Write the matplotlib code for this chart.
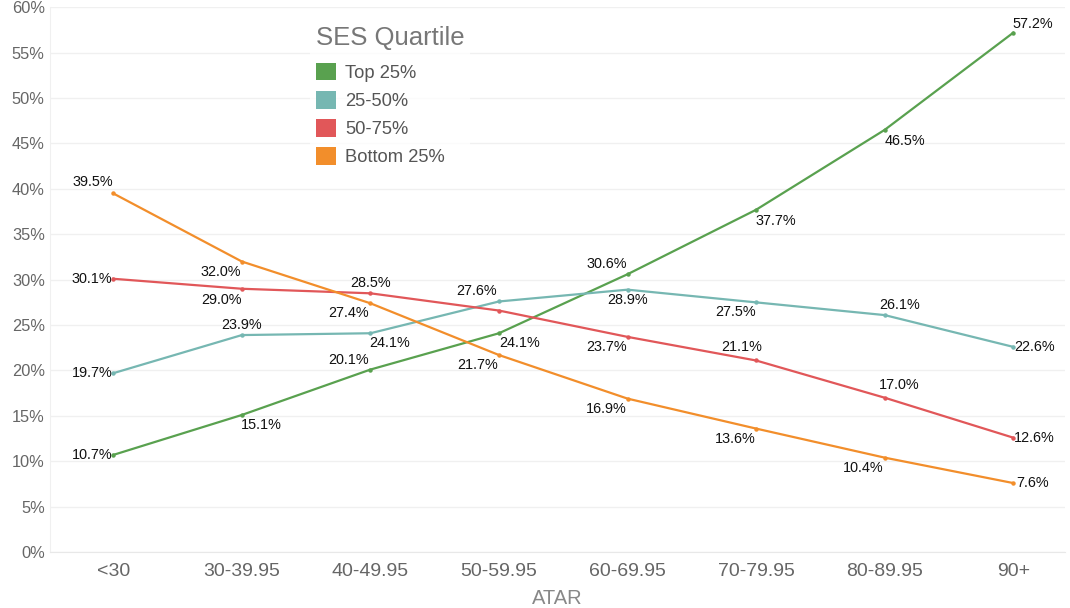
import matplotlib.pyplot as plt
from matplotlib.patches import Patch

plt.rcParams['font.family'] = ['Liberation Sans', 'DejaVu Sans']

# 数据
atar = ['<30', '30-39.95', '40-49.95', '50-59.95', '60-69.95', '70-79.95', '80-89.95', '90+']
series = ['Top 25%', '25-50%', '50-75%', 'Bottom 25%']
top25 = [10.7, 15.1, 20.1, 24.1, 30.6, 37.7, 46.5, 57.2]
q25_50 = [19.7, 23.9, 24.1, 27.6, 28.9, 27.5, 26.1, 22.6]
q50_75 = [30.1, 29.0, 28.5, 26.6, 23.7, 21.1, 17.0, 12.6]
bottom25 = [39.5, 32.0, 27.4, 21.7, 16.9, 13.6, 10.4, 7.6]
# 哪些点显示数值标签
show_label = {
    'Top 25%': [1, 1, 1, 1, 1, 1, 1, 1],
    '25-50%': [1, 1, 1, 1, 1, 1, 1, 1],
    '50-75%': [1, 1, 1, 0, 1, 1, 1, 1],
    'Bottom 25%': [1, 1, 1, 1, 1, 1, 1, 1],
}

colors = ['#59A14F', '#76B7B2', '#E15759', '#F28E2B']
# 标签偏移 (像素)
offsets = {
    'Top 25%': [(-21, 0), (19, -10), (-22, 10), (21, -10), (-21, 10), (20, -11), (20, -11), (20, 9)],
    '25-50%': [(-21, 0), (0, 10), (19, -10), (-22, 10), (0, -10), (-21, -10), (15, 10), (21, 0)],
    '50-75%': [(-21, 0), (-20, -11), (0, 10), (0, 0), (-21, -10), (-14, 13), (15, 13), (21, 0)],
    'Bottom 25%': [(-20, 11), (-21, -10), (-22, -10), (-21, -10), (-21, -10), (-21, -10), (-21, -10), (19, 0)],
}

fig = plt.figure(figsize=(10.7, 6.08), dpi=100)
ax = fig.add_axes([0.047, 0.092, 0.948, 0.896])

x = list(range(len(atar)))
data = [top25, q25_50, q50_75, bottom25]
for name, vals, c in zip(series, data, colors):
    ax.plot(x, vals, color=c, linewidth=1.6, marker='o', markersize=2.2, zorder=3)
    for i, v in enumerate(vals):
        if show_label[name][i]:
            dx, dy = offsets[name][i]
            ax.annotate(f'{v:.1f}%', (i, v), xytext=(dx, dy), textcoords='offset pixels',
                        ha='center', va='center', fontsize=10.4, color='#111111', zorder=4)

ax.set_xlim(-0.49, 7.4)
ax.set_ylim(0, 60)
ax.set_yticks(range(0, 61, 5))
ax.set_yticklabels([f'{t}%' for t in range(0, 61, 5)])
ax.set_xticks(x)
ax.set_xticklabels(atar)
ax.tick_params(axis='y', length=0, labelsize=11.8, labelcolor='#666666', pad=4)
ax.tick_params(axis='x', length=0, labelsize=14, labelcolor='#666666', pad=8)
ax.grid(axis='y', color='#f0f0f0', linewidth=1)
ax.set_axisbelow(True)
for s in ['top', 'right']:
    ax.spines[s].set_visible(False)
ax.spines['left'].set_color('#f0f0f0')
ax.spines['bottom'].set_color('#e8e8e8')
ax.set_xlabel('ATAR', fontsize=14.5, color='#888888', labelpad=6)

handles = [Patch(facecolor=c, edgecolor='none') for c in colors]
leg = ax.legend(handles, series, title='SES Quartile', loc='upper left',
                bbox_to_anchor=(0.247, 0.992), frameon=True, fontsize=13.2,
                title_fontsize=18.5, handlelength=1.1, handleheight=1.1,
                handletextpad=0.5, labelspacing=0.5, borderpad=0.3)
leg.get_frame().set_facecolor('white')
leg.get_frame().set_edgecolor('none')
leg._legend_box.align = 'left'
leg._legend_box.sep = 9
leg.get_title().set_color('#777777')
for t in leg.get_texts():
    t.set_color('#555555')

plt.savefig('out.png', dpi=100)
